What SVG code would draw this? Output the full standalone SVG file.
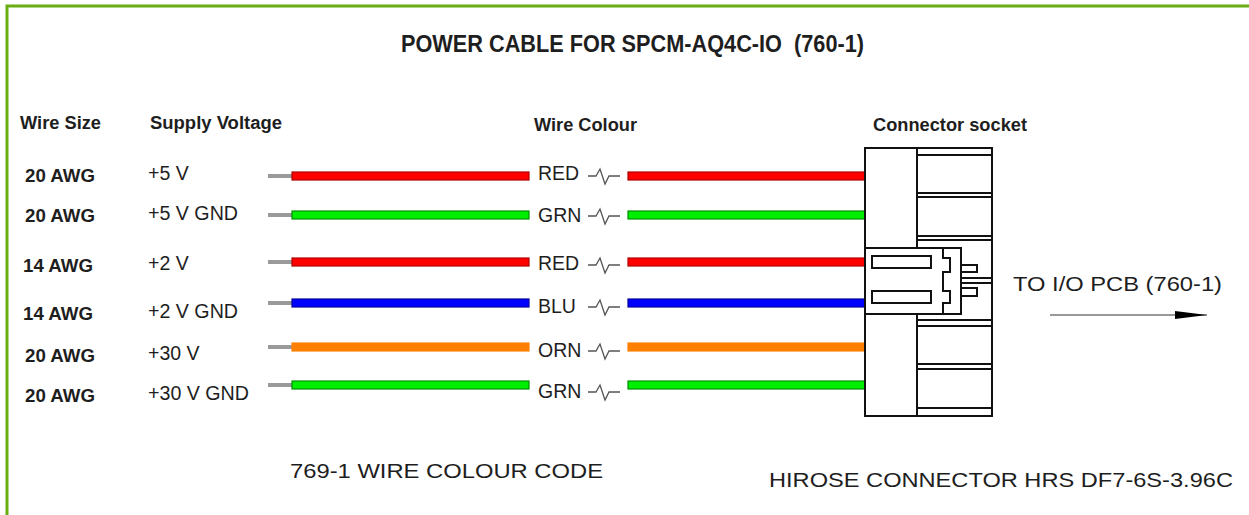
<svg xmlns="http://www.w3.org/2000/svg" width="1249" height="515" viewBox="0 0 1249 515">
<style>
text{font-family:"Liberation Sans",Arial,sans-serif;fill:#1e1e1e}
.b{font-weight:bold}
.h{font-size:18px;font-weight:bold}
.r{font-size:19.5px}
.stub{fill:#9a9a9a}
.w{stroke-width:1.2}
.sq{fill:none;stroke:#555;stroke-width:1.3}
.k{fill:#fff;stroke:#111;stroke-width:2}
.kl{stroke:#111;stroke-width:2;fill:none}
</style>
<defs>
<marker id="ah" viewBox="0 0 32 10" refX="32" refY="5" markerWidth="32" markerHeight="10" markerUnits="userSpaceOnUse" orient="auto">
<path d="M0,1 L32,5 L0,9 Z" fill="#000"/>
</marker>
</defs>
<rect width="1249" height="515" fill="#fff"/>
<path d="M7,515 V6 H1249" fill="none" stroke="#6aad13" stroke-width="3"/>

<g id="title"><text class="b" x="401" y="52" font-size="23" textLength="463" lengthAdjust="spacingAndGlyphs" xml:space="preserve">POWER CABLE FOR SPCM-AQ4C-IO  (760-1)</text></g>
<g id="headers">
<text class="h" x="20" y="129" textLength="81" lengthAdjust="spacingAndGlyphs">Wire Size</text>
<text class="h" x="150" y="129" textLength="132" lengthAdjust="spacingAndGlyphs">Supply Voltage</text>
<text class="h" x="534" y="131" textLength="103" lengthAdjust="spacingAndGlyphs">Wire Colour</text>
<text class="h" x="873" y="131" textLength="154" lengthAdjust="spacingAndGlyphs">Connector socket</text>
</g>

<g id="labels">
<text class="h" x="25" y="182" textLength="70" lengthAdjust="spacingAndGlyphs">20 AWG</text>
<text class="r" x="148" y="180">+5 V</text>
<text class="h" x="25" y="222" textLength="70" lengthAdjust="spacingAndGlyphs">20 AWG</text>
<text class="r" x="148" y="220" textLength="90" lengthAdjust="spacingAndGlyphs">+5 V GND</text>
<text class="h" x="23" y="272" textLength="70" lengthAdjust="spacingAndGlyphs">14 AWG</text>
<text class="r" x="148" y="270">+2 V</text>
<text class="h" x="23" y="320" textLength="70" lengthAdjust="spacingAndGlyphs">14 AWG</text>
<text class="r" x="148" y="318" textLength="90" lengthAdjust="spacingAndGlyphs">+2 V GND</text>
<text class="h" x="25" y="362" textLength="70" lengthAdjust="spacingAndGlyphs">20 AWG</text>
<text class="r" x="148" y="360">+30 V</text>
<text class="h" x="25" y="402" textLength="70" lengthAdjust="spacingAndGlyphs">20 AWG</text>
<text class="r" x="148" y="400" textLength="101" lengthAdjust="spacingAndGlyphs">+30 V GND</text>
</g>

<g id="wires">
<g id="wire1">
<rect class="stub" x="268" y="174" width="24" height="4"/>
<rect class="w" x="292" y="172" width="237" height="8" fill="#ff0000" stroke="#b00000"/>
<text class="r" x="538" y="180">RED</text>
<path class="sq" d="M588,176 H596 L600,169 L605,184 L609,176 H620"/>
<rect class="w" x="628" y="172" width="237" height="8" fill="#ff0000" stroke="#b00000"/>
</g>
<g id="wire2">
<rect class="stub" x="268" y="213" width="24" height="4"/>
<rect class="w" x="292" y="211" width="237" height="8" fill="#00ee00" stroke="#009000"/>
<text class="r" x="538" y="222">GRN</text>
<path class="sq" d="M588,216 H596 L600,209 L605,224 L609,216 H620"/>
<rect class="w" x="628" y="211" width="237" height="8" fill="#00ee00" stroke="#009000"/>
</g>
<g id="wire3">
<rect class="stub" x="268" y="260" width="24" height="4"/>
<rect class="w" x="292" y="258" width="237" height="8" fill="#ff0000" stroke="#b00000"/>
<text class="r" x="538" y="270">RED</text>
<path class="sq" d="M588,265 H596 L600,258 L605,273 L609,265 H620"/>
<rect class="w" x="628" y="258" width="237" height="8" fill="#ff0000" stroke="#b00000"/>
</g>
<g id="wire4">
<rect class="stub" x="268" y="301" width="24" height="4"/>
<rect class="w" x="292" y="299" width="237" height="8" fill="#0000ff" stroke="#0000a0"/>
<text class="r" x="538" y="313">BLU</text>
<path class="sq" d="M588,307 H596 L600,300 L605,315 L609,307 H620"/>
<rect class="w" x="628" y="299" width="237" height="8" fill="#0000ff" stroke="#0000a0"/>
</g>
<g id="wire5">
<rect class="stub" x="268" y="345" width="24" height="4"/>
<rect class="w" x="292" y="343" width="237" height="8" fill="#ff8000" stroke="#ff8000"/>
<text class="r" x="538" y="357">ORN</text>
<path class="sq" d="M588,351 H596 L600,344 L605,359 L609,351 H620"/>
<rect class="w" x="628" y="343" width="237" height="8" fill="#ff8000" stroke="#ff8000"/>
</g>
<g id="wire6">
<rect class="stub" x="268" y="383" width="24" height="4"/>
<rect class="w" x="292" y="381" width="237" height="8" fill="#00ee00" stroke="#009000"/>
<text class="r" x="538" y="398">GRN</text>
<path class="sq" d="M588,392 H596 L600,385 L605,400 L609,392 H620"/>
<rect class="w" x="628" y="381" width="237" height="8" fill="#00ee00" stroke="#009000"/>
</g>
</g>

<g id="connector">
<rect class="k" x="865" y="148" width="52" height="268"/>
<rect class="k" x="917" y="148" width="75" height="268"/>
<path class="kl" d="M917,155 H992 M917,193 H992 M917,197 H992 M917,236 H992 M917,240 H992 M917,278 H992 M917,283 H992 M917,320 H992 M917,326 H992 M917,364 H992 M917,369 H992 M917,408 H992"/>
<rect class="k" x="865" y="248" width="96" height="66"/>
<rect class="k" x="872" y="256" width="59" height="12"/>
<rect class="k" x="872" y="291" width="59" height="12"/>
<path class="kl" d="M943,248 V258 H950 V272 H943 V291 H950 V303 H943 V314"/>
<rect class="k" x="961" y="265" width="16" height="7"/>
<rect class="k" x="961" y="288" width="16" height="8"/>
</g>

<g id="output">
<text x="1013" y="291" font-size="21" textLength="209" lengthAdjust="spacingAndGlyphs">TO I/O PCB (760-1)</text>
<line x1="1050" y1="315" x2="1207" y2="315" stroke="#777" stroke-width="1.5" marker-end="url(#ah)"/>
</g>

<g id="captions">
<text x="290" y="478" font-size="21" textLength="313" lengthAdjust="spacingAndGlyphs">769-1 WIRE COLOUR CODE</text>
<text x="769" y="487" font-size="21" textLength="464" lengthAdjust="spacingAndGlyphs">HIROSE CONNECTOR HRS DF7-6S-3.96C</text>
</g>
</svg>
